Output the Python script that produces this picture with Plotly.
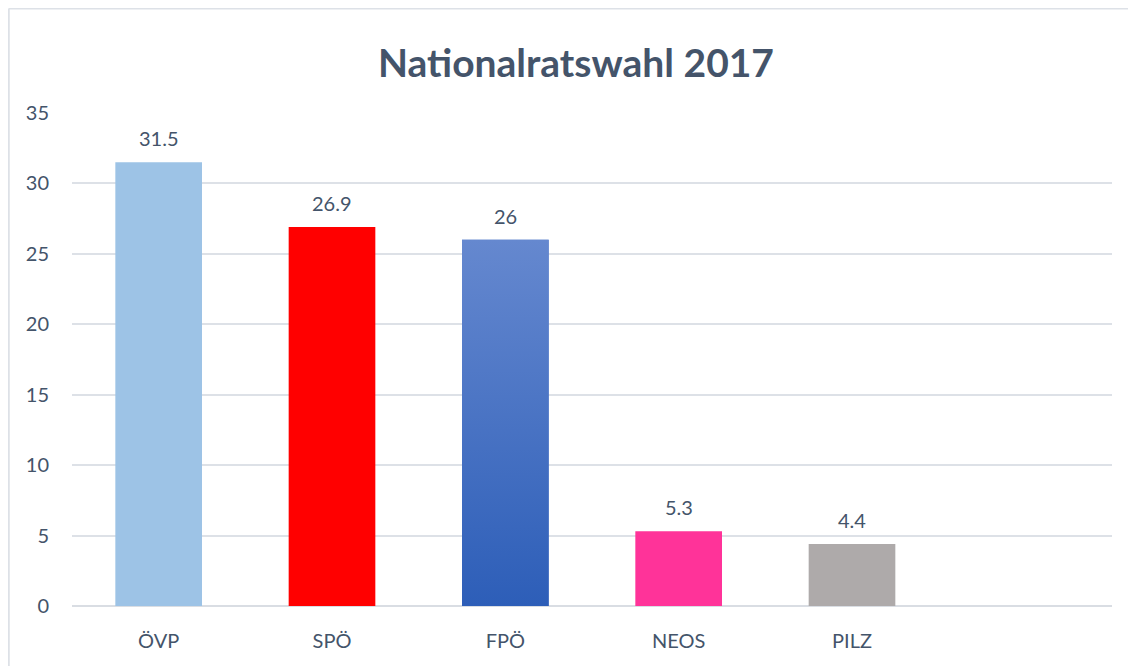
import plotly.graph_objects as go

# data
parties = ['ÖVP', 'SPÖ', 'FPÖ', 'NEOS', 'PILZ', '']
votes = [31.5, 26.9, 26, 5.3, 4.4, None]
colors = ['#9dc3e6', '#ff0000', '#4a74c8', '#ff3399', '#aeaaaa', '#ffffff']
fpo_gradient = [[0, '#2d5eb8'], [1, '#6588cf']]

text_color = '#44546a'
font_family = 'Lato, Open Sans, sans-serif'
frame_color = '#dde1e7'

idx = list(range(len(parties)))

fig = go.Figure()

# the bars
fig.add_trace(go.Bar(x=idx, y=votes, width=0.5,
                     marker=dict(color=colors, line=dict(width=0)),
                     hoverinfo='skip'))

# FPÖ bar drawn again with a vertical gradient fill
i = parties.index('FPÖ')
fig.add_trace(go.Scatter(x=[i - 0.25, i - 0.25, i + 0.25, i + 0.25, i - 0.25],
                         y=[0, votes[i], votes[i], 0, 0],
                         mode='lines', line=dict(width=0),
                         fill='toself',
                         fillgradient=dict(type='vertical', colorscale=fpo_gradient),
                         hoverinfo='skip'))

# value labels above the bars
for x, v in zip(idx, votes):
    if v is None:
        continue
    fig.add_annotation(x=x, y=v, text=f'{v:g}', showarrow=False,
                       yanchor='bottom', yshift=10,
                       font=dict(size=20, color=text_color))

# frame of the chart box: only the top and left edges are in view
fig.add_shape(type='line', xref='paper', yref='paper',
              x0=-0.0608, x1=1.2, y0=1.212, y1=1.212,
              line=dict(color=frame_color, width=2))
fig.add_shape(type='line', xref='paper', yref='paper',
              x0=-0.0608, x1=-0.0608, y0=-0.3, y1=1.212,
              line=dict(color=frame_color, width=2))

fig.update_layout(
    title=dict(text='<b>Nationalratswahl 2017</b>', x=0.5, xanchor='center',
               y=0.917, yanchor='middle',
               font=dict(size=39, color=text_color, family=font_family)),
    width=1136, height=666,
    margin=dict(l=64, r=32, t=105, b=68),
    font=dict(family=font_family, size=20, color=text_color),
    paper_bgcolor='white', plot_bgcolor='white',
    showlegend=False,
    bargap=0.5,
    xaxis=dict(tickmode='array', tickvals=idx, ticktext=parties,
               range=[-0.5, len(parties) - 0.5],
               showgrid=False, zeroline=False, showline=False,
               ticks='outside', ticklen=17, tickcolor='rgba(0,0,0,0)',
               tickfont=dict(size=20, color=text_color)),
    yaxis=dict(range=[0, 35], dtick=5,
               showgrid=True, gridcolor=frame_color, gridwidth=1.5,
               zeroline=True, zerolinecolor='#d9dde3', zerolinewidth=2,
               showline=False,
               ticks='outside', ticklen=18, tickcolor='rgba(0,0,0,0)',
               tickfont=dict(size=20, color=text_color)),
)

fig.write_html('out.html')
